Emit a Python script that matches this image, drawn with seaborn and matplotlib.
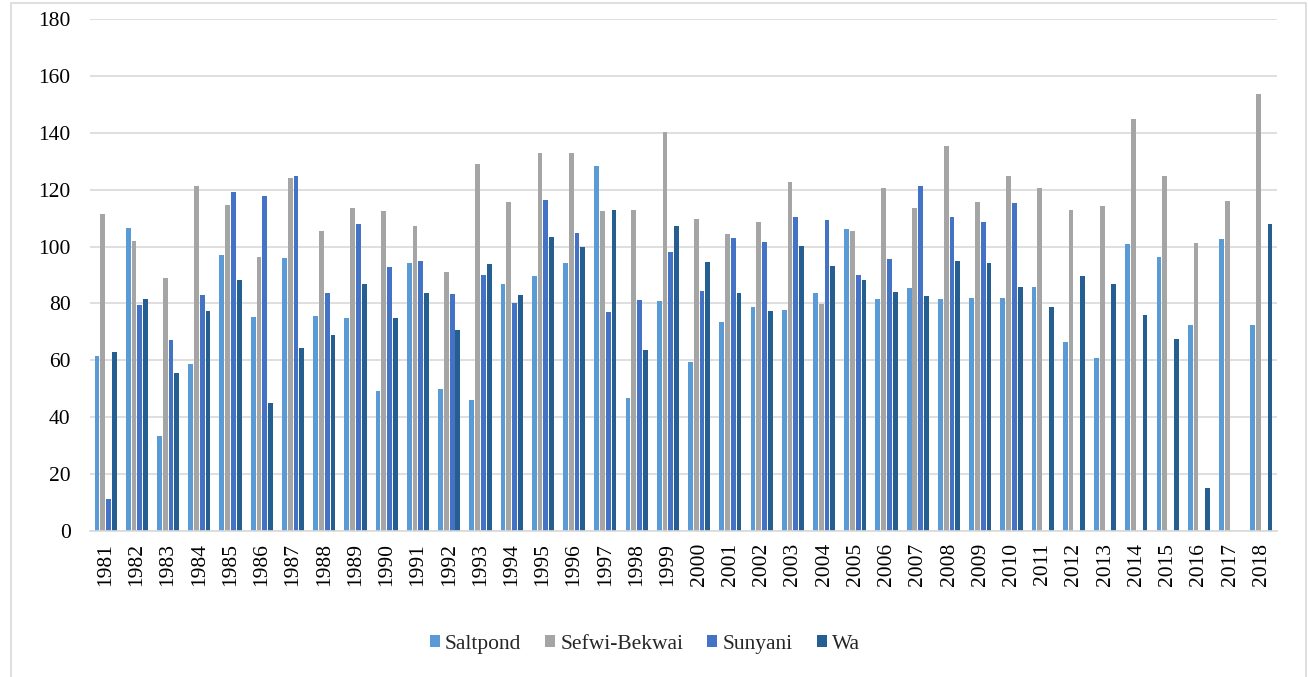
import pandas as pd
import matplotlib.pyplot as plt
import seaborn as sns
from matplotlib.patches import Rectangle

nan = float('nan')

years = [str(y) for y in range(1981, 2019)]
stations = ['Saltpond', 'Sefwi-Bekwai', 'Sunyani', 'Wa']

saltpond = [61.6, 106.5, 33.3, 58.6, 97.0, 75.2, 96.0, 75.7, 74.7, 49.1,
            94.2, 49.9, 45.9, 86.9, 89.6, 94.1, 128.2, 46.6, 80.8, 59.3,
            73.4, 78.8, 77.7, 83.6, 106.1, 81.5, 85.4, 81.4, 81.8, 81.8,
            85.6, 66.6, 60.7, 100.9, 96.3, 72.4, 102.8, 72.3]
sefwi = [111.5, 101.8, 89.1, 121.4, 114.5, 96.4, 124.2, 105.4, 113.7, 112.5,
         107.3, 90.9, 129.1, 115.7, 132.8, 133.0, 112.6, 112.9, 140.3, 109.8,
         104.3, 108.7, 122.7, 79.8, 105.6, 120.6, 113.7, 135.2, 115.8, 124.7,
         120.4, 112.9, 114.2, 144.7, 124.7, 101.3, 116.0, 153.6]
sunyani = [11.4, 79.3, 67.1, 82.8, 119.1, 117.9, 124.8, 83.8, 108.0, 92.8,
           95.0, 83.4, 89.9, 80.0, 116.5, 104.8, 76.9, 81.2, 98.0, 84.5,
           102.9, 101.6, 110.3, 109.4, 90.1, 95.7, 121.4, 110.3, 108.5, 115.4,
           nan, nan, nan, nan, nan, nan, nan, nan]
wa = [62.8, 81.6, 55.4, 77.5, 88.1, 45.1, 64.4, 68.8, 86.8, 74.7,
      83.8, 70.8, 93.9, 83.0, 103.4, 100.0, 112.9, 63.7, 107.3, 94.7,
      83.6, 77.5, 100.3, 93.2, 88.1, 84.0, 82.7, 95.0, 94.1, 85.7,
      78.7, 89.7, 86.9, 75.9, 67.4, 15.1, nan, 107.9]

colors = ['#5B9BD5', '#A5A5A5', '#4472C4', '#255E91']

df = pd.DataFrame({'Year': years, 'Saltpond': saltpond, 'Sefwi-Bekwai': sefwi,
                   'Sunyani': sunyani, 'Wa': wa})
long_df = df.melt(id_vars='Year', var_name='Station', value_name='Value')

sns.set_style('white')
plt.rcParams['font.family'] = ['Liberation Serif', 'DejaVu Serif']

fig = plt.figure(figsize=(13.08, 6.77), dpi=100)
ax = fig.add_axes([0.0688, 0.2157, 0.9075, 0.7563])

# grouped bars, one slot per station even when a value is missing
sns.barplot(data=long_df, x='Year', y='Value', hue='Station', hue_order=stations,
            order=years, palette=colors, width=0.74, gap=0.17, errorbar=None,
            saturation=1, linewidth=0, ax=ax)

ax.set_ylim(0, 180)
ax.set_yticks(range(0, 181, 20))
ax.set_xlim(-0.5, len(years) - 0.5)
ax.yaxis.grid(True, color='#D9D9D9', linewidth=1.2)
ax.set_axisbelow(True)
for side in ['left', 'right', 'top']:
    ax.spines[side].set_visible(False)
ax.spines['bottom'].set_color('#D9D9D9')
ax.spines['bottom'].set_linewidth(1.2)
ax.tick_params(axis='both', length=0, labelsize=15.5, colors='black')
ax.tick_params(axis='x', rotation=90, pad=8.5)
ax.tick_params(axis='y', pad=14)
ax.set_xlabel('')
ax.set_ylabel('')

handles, labels = ax.get_legend_handles_labels()
ax.get_legend().remove()
fig.legend(handles, labels, loc='center', bbox_to_anchor=(0.493, 0.048), ncol=4,
           frameon=False, fontsize=15.5, handlelength=0.47, handleheight=0.47,
           handletextpad=0.25, columnspacing=1.1)

# light frame around the whole chart, open at the bottom like the source
fig.patches.append(Rectangle((0.0084, -0.02), 0.99, 1.0156, transform=fig.transFigure,
                             fill=False, edgecolor='#D9D9D9', linewidth=1.2))

plt.savefig('out.png', dpi=100)
